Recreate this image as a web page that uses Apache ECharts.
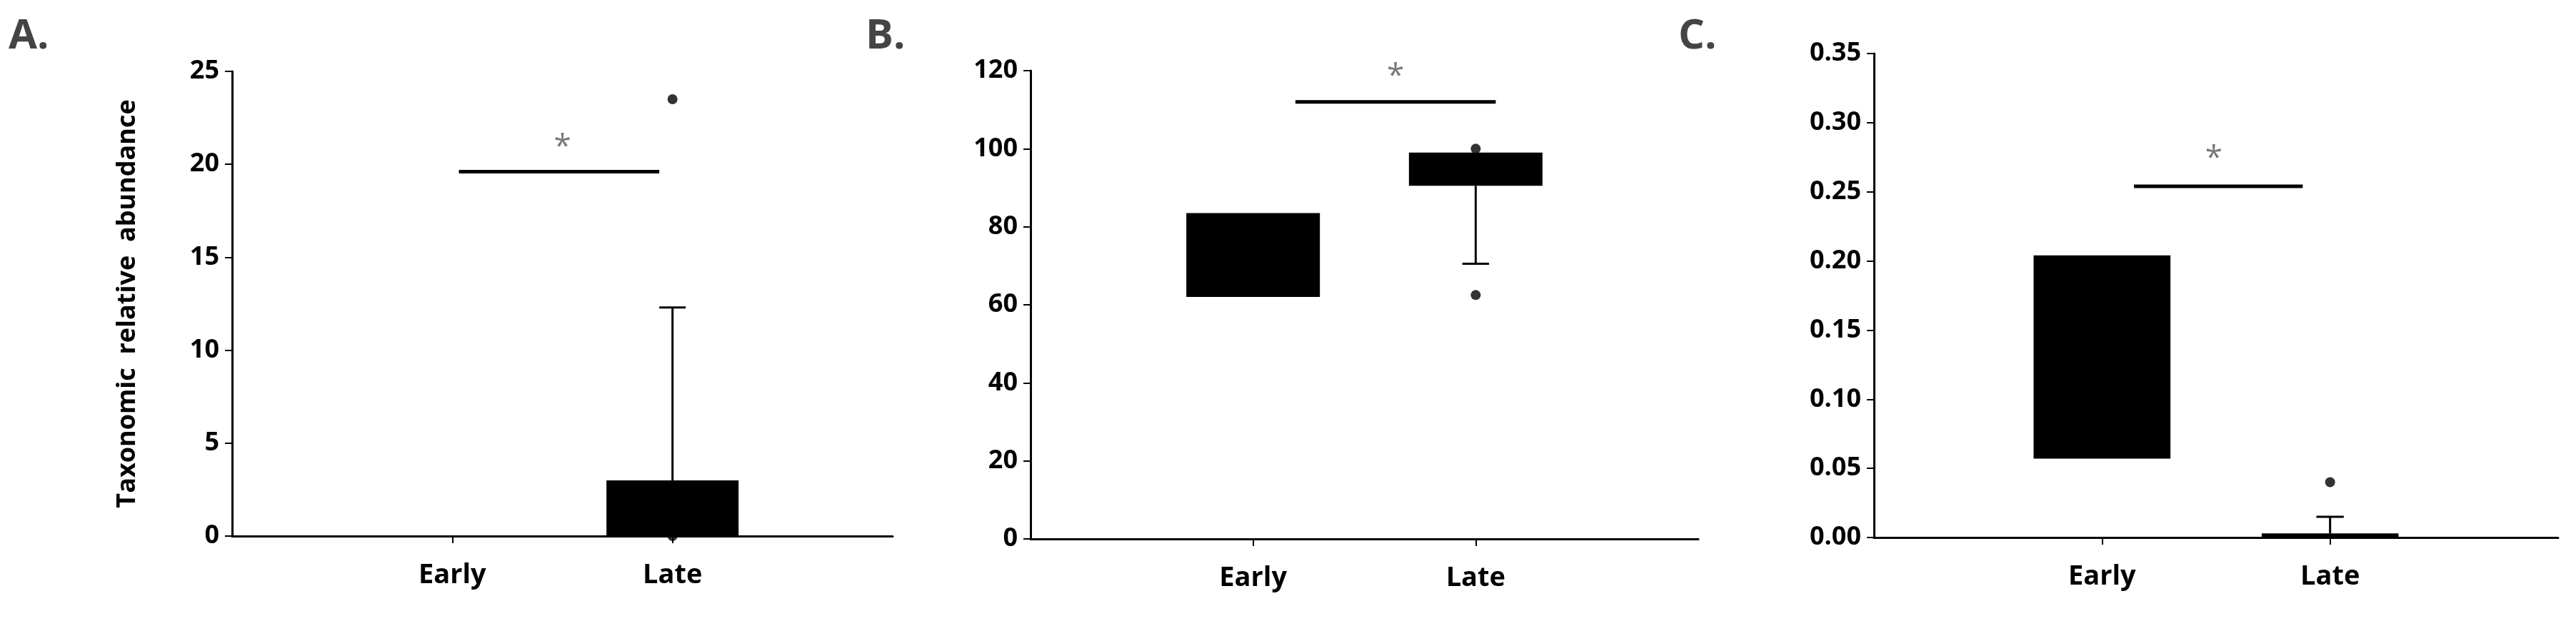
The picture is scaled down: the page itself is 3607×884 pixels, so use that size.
<!DOCTYPE html>
<html><head><meta charset="utf-8">
<script src="https://cdn.jsdelivr.net/npm/echarts@6/dist/echarts.min.js"></script>
<style>html,body{margin:0;padding:0;background:#fff}#c{width:3607px;height:884px}</style>
</head><body><div id="c"></div>
<script>
const categories = ['Early', 'Late'];
const catPos = [1, 2];
// box stats per panel: [pos, q1, q3, whiskerLow, whiskerHigh]
const boxA = [[1, 0, 0, 0, 0], [2, 0, 3, 0, 12.3]];
const boxB = [[1, 62, 83.5, 62, 83.5], [2, 90.5, 99, 70.5, 99]];
const boxC = [[1, 0.057, 0.204, 0.057, 0.204], [2, 0, 0.003, 0, 0.015]];
const outA = [[2, 23.5], [2, 0]];
const outB = [[2, 62.5], [2, 100]];
const outC = [[2, 0.04]];
const sigA = [[1.03, 19.6], [1.94, 19.6]], starA = [[1.5, 20.9]];
const sigB = [[1.19, 112], [2.09, 112]], starB = [[1.64, 118.5]];
const sigC = [[1.14, 0.254], [1.88, 0.254]], starC = [[1.49, 0.274]];
const yTicksA = {max: 25, interval: 5};
const yTicksB = {max: 120, interval: 20};
const yTicksC = {max: 0.35, interval: 0.05};

const F = 'Open Sans';
const grids = [
  {left: 325, width: 925, top: 100, bottom: 133},
  {left: 1443, width: 935, top: 99, bottom: 129},
  {left: 2624, width: 958, top: 75, bottom: 131}
];
const axLine = {lineStyle: {color: '#000', width: 3}};
const xAxes = grids.map((g, i) => ({
  type: 'value', gridIndex: i, min: 0, max: 3, axisLine: {show: true, ...axLine},
  splitLine: {show: false},
  axisTick: {show: true, customValues: catPos, length: 10, lineStyle: {color: '#000', width: 2}},
  axisLabel: {customValues: catPos, formatter: v => categories[catPos.indexOf(v)] || '', color: '#000',
    fontFamily: F, fontWeight: 'bold', fontSize: 38, margin: 36}
}));
const yAxes = [yTicksA, yTicksB, yTicksC].map((t, i) => ({
  type: 'value', gridIndex: i, min: 0, max: t.max, interval: t.interval,
  axisLine: {show: true, ...axLine}, splitLine: {show: false},
  axisTick: {show: true, length: 10, lineStyle: {color: '#000', width: 2}},
  axisLabel: {color: '#000', fontFamily: F, fontWeight: 'bold', fontSize: 36, margin: 18,
    formatter: i === 2 ? (v => v.toFixed(2)) : (v => String(v))},
  name: i === 0 ? 'Taxonomic  relative  abundance' : '', nameLocation: 'middle', nameGap: 128,
  nameTextStyle: {color: '#000', fontFamily: F, fontWeight: 'bold', fontSize: 36}
}));
function boxSeries(data, i) {
  return {
    type: 'custom', xAxisIndex: i, yAxisIndex: i, data: data,
    renderItem: (params, api) => {
      const x = api.value(0), q1 = api.value(1), q3 = api.value(2), lo = api.value(3), hi = api.value(4);
      const a = api.coord([x - 0.3, q3]), b = api.coord([x + 0.3, q1]);
      const ch = [];
      if (q3 > q1) ch.push({type: 'rect', shape: {x: a[0], y: a[1], width: b[0] - a[0], height: b[1] - a[1]}, style: {fill: '#000'}});
      const c = api.coord([x, 0])[0];
      const cw = (api.coord([x + 0.06, 0])[0] - c);
      if (hi > q3) {
        const p1 = api.coord([x, hi])[1], p2 = api.coord([x, q3])[1];
        ch.push({type: 'line', shape: {x1: c, y1: p1, x2: c, y2: p2}, style: {stroke: '#000', lineWidth: 3}});
        ch.push({type: 'line', shape: {x1: c - cw, y1: p1, x2: c + cw, y2: p1}, style: {stroke: '#000', lineWidth: 3}});
      }
      if (lo < q1) {
        const p1 = api.coord([x, lo])[1], p2 = api.coord([x, q1])[1];
        ch.push({type: 'line', shape: {x1: c, y1: p1, x2: c, y2: p2}, style: {stroke: '#000', lineWidth: 3}});
        ch.push({type: 'line', shape: {x1: c - cw, y1: p1, x2: c + cw, y2: p1}, style: {stroke: '#000', lineWidth: 3}});
      }
      return {type: 'group', children: ch};
    }
  };
}
const series = [];
[[boxA, outA, sigA, starA], [boxB, outB, sigB, starB], [boxC, outC, sigC, starC]].forEach((p, i) => {
  series.push(boxSeries(p[0], i));
  series.push({type: 'scatter', xAxisIndex: i, yAxisIndex: i, data: p[1], symbolSize: 14, itemStyle: {color: '#000'}, z: 5});
  series.push({type: 'line', xAxisIndex: i, yAxisIndex: i, data: p[2], showSymbol: false, lineStyle: {color: '#000', width: 5}});
  series.push({type: 'scatter', xAxisIndex: i, yAxisIndex: i, data: p[3], symbolSize: 1, itemStyle: {color: 'transparent'},
    label: {show: true, position: 'inside', formatter: '*', color: '#555', fontFamily: F, fontSize: 44}});
});
const chart = echarts.init(document.getElementById('c'));
chart.setOption({
  animation: false,
  grid: grids,
  xAxis: xAxes, yAxis: yAxes, series: series,
  graphic: [['A.', 12, 22], ['B.', 1212, 22], ['C.', 2350, 22]].map(t => ({
    type: 'text', left: t[1], top: t[2], style: {text: t[0], fill: '#444', font: 'bold 58px "Open Sans"'}
  }))
});
</script></body></html>
